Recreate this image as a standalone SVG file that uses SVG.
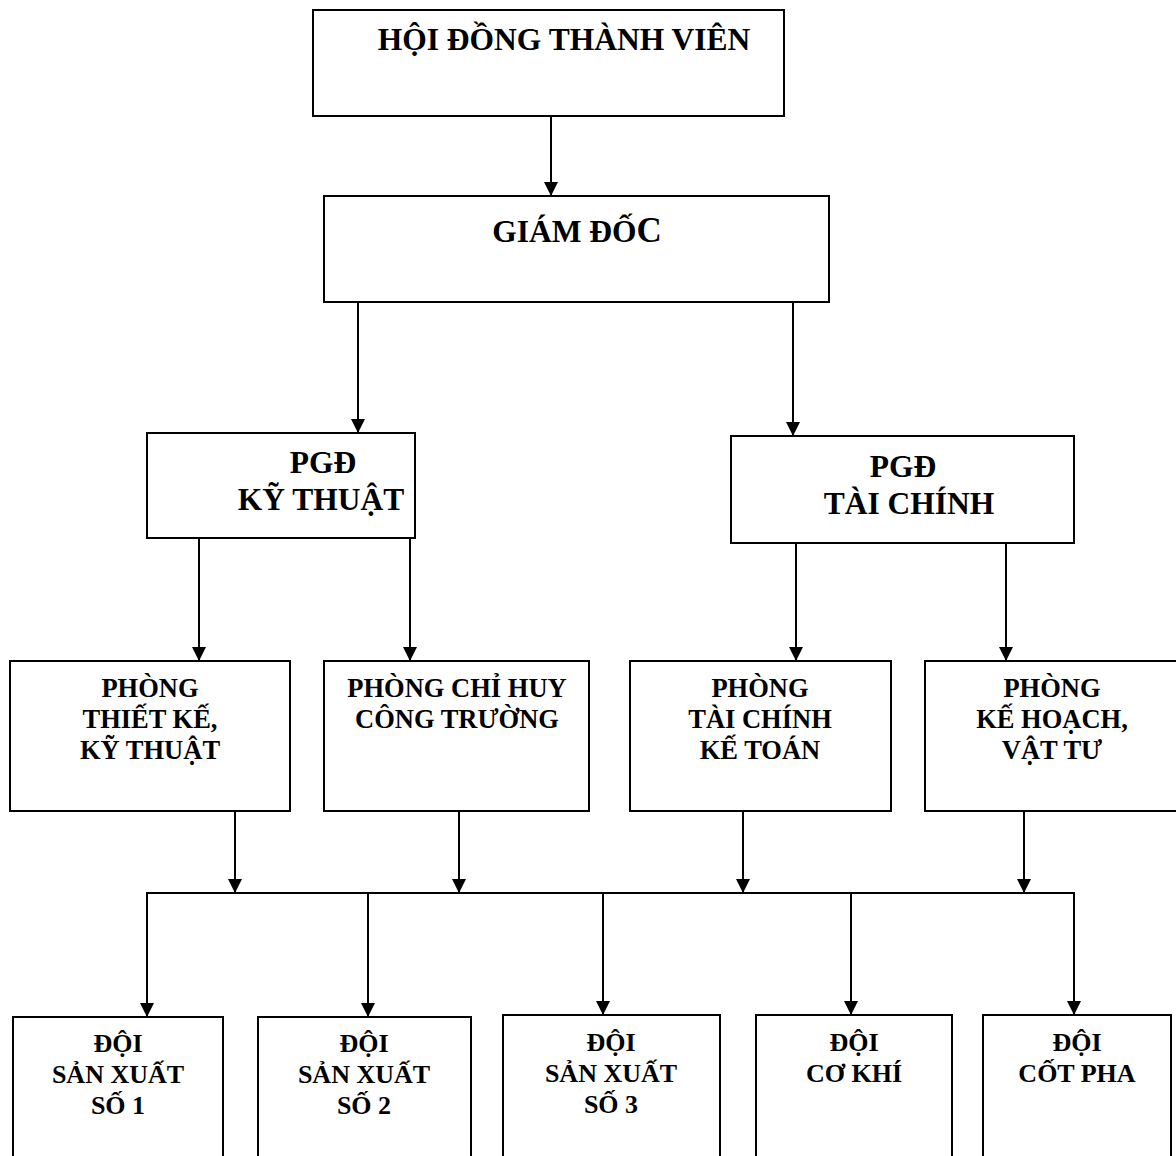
<svg xmlns="http://www.w3.org/2000/svg" width="1176" height="1156" viewBox="0 0 1176 1156">
  <style>
    .box { fill: #ffffff; stroke: #000000; stroke-width: 2; }
    .lbl { font-family: "Liberation Serif", "Times New Roman", serif; font-weight: bold; fill: #000000; text-anchor: middle; }
    .big { font-size: 31.5px; }
    .mid { font-size: 26.5px; }
    .sm { font-size: 26px; }
    .wire { fill: none; stroke: #000000; stroke-width: 2; }
    .arrow { fill: none; stroke: #000000; stroke-width: 2; marker-end: url(#head); }
  </style>
  <defs>
    <marker id="head" markerUnits="userSpaceOnUse" markerWidth="14" markerHeight="14" refX="14" refY="7" orient="auto">
      <path d="M0,0 L14,7 L0,14 z" fill="#000000"/>
    </marker>
  </defs>
  <rect width="1176" height="1156" fill="#ffffff"/>

  <!-- connectors -->
  <g id="connectors">
    <line class="arrow" x1="551" y1="116" x2="551" y2="196"/>
    <line class="arrow" x1="358" y1="302" x2="358" y2="433"/>
    <line class="arrow" x1="793" y1="302" x2="793" y2="436"/>
    <line class="arrow" x1="199" y1="538" x2="199" y2="661"/>
    <line class="arrow" x1="410" y1="538" x2="410" y2="661"/>
    <line class="arrow" x1="796" y1="543" x2="796" y2="661"/>
    <line class="arrow" x1="1006" y1="543" x2="1006" y2="661"/>
    <line class="arrow" x1="235" y1="811" x2="235" y2="893"/>
    <line class="arrow" x1="459" y1="811" x2="459" y2="893"/>
    <line class="arrow" x1="743" y1="811" x2="743" y2="893"/>
    <line class="arrow" x1="1024" y1="811" x2="1024" y2="893"/>
    <line class="wire" x1="146" y1="893" x2="1075" y2="893"/>
    <line class="arrow" x1="147" y1="893" x2="147" y2="1017"/>
    <line class="arrow" x1="368" y1="893" x2="368" y2="1017"/>
    <line class="arrow" x1="603" y1="893" x2="603" y2="1015"/>
    <line class="arrow" x1="851" y1="893" x2="851" y2="1015"/>
    <line class="arrow" x1="1074" y1="893" x2="1074" y2="1015"/>
  </g>

  <g id="hoi-dong">
    <rect class="box" x="313" y="10" width="471" height="106"/>
    <text class="lbl big" x="564" y="50">HỘI ĐỒNG THÀNH VIÊN</text>
  </g>

  <g id="giam-doc">
    <rect class="box" x="324" y="196" width="505" height="106"/>
    <text class="lbl big" x="577" y="242">GIÁM ĐỐ<tspan font-size="35">C</tspan></text>
  </g>

  <g id="pgd-ky-thuat">
    <rect class="box" x="147" y="433" width="268" height="105"/>
    <text class="lbl big" x="323" y="473">PGĐ</text>
    <text class="lbl big" x="321" y="510">KỸ THUẬT</text>
  </g>

  <g id="pgd-tai-chinh">
    <rect class="box" x="731" y="436" width="343" height="107"/>
    <text class="lbl big" x="903" y="477">PGĐ</text>
    <text class="lbl big" x="909" y="514">TÀI CHÍNH</text>
  </g>

  <g id="phong-thiet-ke">
    <rect class="box" x="10" y="661" width="280" height="150"/>
    <text class="lbl mid" x="150" y="697">PHÒNG</text>
    <text class="lbl mid" x="150" y="728">THIẾT KẾ,</text>
    <text class="lbl mid" x="150" y="759">KỸ THUẬT</text>
  </g>

  <g id="phong-chi-huy">
    <rect class="box" x="324" y="661" width="265" height="150"/>
    <text class="lbl mid" x="457" y="697">PHÒNG CHỈ HUY</text>
    <text class="lbl mid" x="457" y="728">CÔNG TRƯỜNG</text>
  </g>

  <g id="phong-tai-chinh">
    <rect class="box" x="630" y="661" width="261" height="150"/>
    <text class="lbl mid" x="760" y="697">PHÒNG</text>
    <text class="lbl mid" x="760" y="728">TÀI CHÍNH</text>
    <text class="lbl mid" x="760" y="759">KẾ TOÁN</text>
  </g>

  <g id="phong-ke-hoach">
    <rect class="box" x="925" y="661" width="254" height="150"/>
    <text class="lbl mid" x="1052" y="697">PHÒNG</text>
    <text class="lbl mid" x="1052" y="728">KẾ HOẠCH,</text>
    <text class="lbl mid" x="1052" y="759">VẬT TƯ</text>
  </g>

  <g id="doi-sx-1">
    <rect class="box" x="13" y="1017" width="210" height="160"/>
    <text class="lbl sm" x="118" y="1052">ĐỘI</text>
    <text class="lbl sm" x="118" y="1083">SẢN XUẤT</text>
    <text class="lbl sm" x="118" y="1114">SỐ 1</text>
  </g>

  <g id="doi-sx-2">
    <rect class="box" x="258" y="1017" width="213" height="160"/>
    <text class="lbl sm" x="364" y="1052">ĐỘI</text>
    <text class="lbl sm" x="364" y="1083">SẢN XUẤT</text>
    <text class="lbl sm" x="364" y="1114">SỐ 2</text>
  </g>

  <g id="doi-sx-3">
    <rect class="box" x="503" y="1015" width="217" height="160"/>
    <text class="lbl sm" x="611" y="1051">ĐỘI</text>
    <text class="lbl sm" x="611" y="1082">SẢN XUẤT</text>
    <text class="lbl sm" x="611" y="1113">SỐ 3</text>
  </g>

  <g id="doi-co-khi">
    <rect class="box" x="756" y="1015" width="196" height="160"/>
    <text class="lbl sm" x="854" y="1051">ĐỘI</text>
    <text class="lbl sm" x="854" y="1082">CƠ KHÍ</text>
  </g>

  <g id="doi-cot-pha">
    <rect class="box" x="983" y="1015" width="188" height="160"/>
    <text class="lbl sm" x="1077" y="1051">ĐỘI</text>
    <text class="lbl sm" x="1077" y="1082">CỐT PHA</text>
  </g>
</svg>
